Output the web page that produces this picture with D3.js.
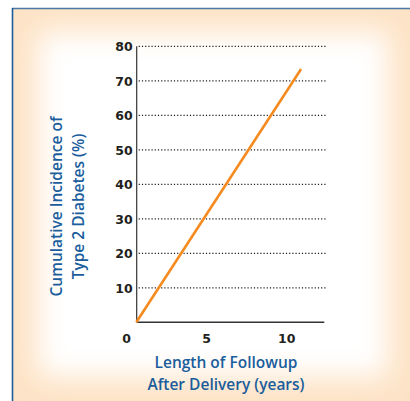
<!DOCTYPE html>
<html>
<head>
<meta charset="utf-8">
<script src="https://cdn.jsdelivr.net/npm/d3@7"></script>
<style>
  body { margin: 0; background: #fff; }
  text { font-family: "Open Sans", sans-serif; }
  text.tick { font-family: "DejaVu Sans", sans-serif; }
</style>
</head>
<body>
<div id="chart"></div>
<script>
// data
var years = [0.6, 10.9];
var incidence = [0, 73.4];
var yTicks = [10, 20, 30, 40, 50, 60, 70, 80];
var xTicks = [0, 5, 10];
var yTitle = ["Cumulative Incidence of", "Type 2 Diabetes (%)"];
var xTitle = ["Length of Followup", "After Delivery (years)"];

var svg = d3.select("#chart").append("svg").attr("width", 410).attr("height", 401);

// peach vignette frame
var defs = svg.append("defs");
defs.append("filter").attr("id", "soft").attr("x", "-20%").attr("y", "-20%").attr("width", "140%").attr("height", "140%")
  .append("feGaussianBlur").attr("stdDeviation", 14);
svg.append("rect").attr("x", 13).attr("y", 9).attr("width", 400).attr("height", 395).attr("fill", "#fde3c6");
svg.append("rect").attr("x", 38).attr("y", 32).attr("width", 350).attr("height", 345).attr("fill", "#fff").attr("filter", "url(#soft)");
svg.append("line").attr("x1", 12).attr("x2", 410).attr("y1", 8.5).attr("y2", 8.5).attr("stroke", "#4a79a6").attr("stroke-width", 1.6);
svg.append("line").attr("x1", 12.5).attr("x2", 12.5).attr("y1", 8).attr("y2", 401).attr("stroke", "#1b5c9e").attr("stroke-width", 1.6);

var x = d3.scaleLinear().domain([0, 5]).range([126.7, 206.7]);
var y = d3.scaleLinear().domain([0, 80]).range([322.3, 46.3]);
var xStart = 0.625, xEnd = 12.35;

var data = years.map(function(d, i) { return [d, incidence[i]]; });

// dotted gridlines
svg.append("g").selectAll("line").data(yTicks).enter().append("line")
  .attr("x1", x(xStart) + 2).attr("x2", x(12.45))
  .attr("y1", function(d) { return y(d); }).attr("y2", function(d) { return y(d); })
  .attr("stroke", "#1e1e1e").attr("stroke-width", 1.3).attr("stroke-dasharray", "1.2,2");

// axes lines
svg.append("line").attr("x1", x(xStart)).attr("x2", x(xStart)).attr("y1", y(80)).attr("y2", y(0))
  .attr("stroke", "#333").attr("stroke-width", 1.2);
svg.append("line").attr("x1", x(xStart)).attr("x2", x(xEnd)).attr("y1", y(0)).attr("y2", y(0))
  .attr("stroke", "#333").attr("stroke-width", 1.5);

// tick labels
svg.append("g").selectAll("text").data(yTicks).enter().append("text").attr("class", "tick")
  .attr("x", x(xStart) - 4).attr("y", function(d) { return y(d) + 4.7; })
  .attr("text-anchor", "end").attr("font-size", 12.5).attr("font-weight", 700).attr("fill", "#231f20")
  .text(function(d) { return d; });
svg.append("g").selectAll("text").data(xTicks).enter().append("text").attr("class", "tick")
  .attr("x", function(d) { return x(d); }).attr("y", 343)
  .attr("text-anchor", "middle").attr("font-size", 12.5).attr("font-weight", 700).attr("fill", "#231f20")
  .text(function(d) { return d; });

// the line
svg.append("path").datum(data)
  .attr("d", d3.line().x(function(d) { return x(d[0]); }).y(function(d) { return y(d[1]); }))
  .attr("fill", "none").attr("stroke", "#f58a1f").attr("stroke-width", 2.6);

// axis titles
var yt = svg.append("text").attr("transform", "translate(0,206.5) rotate(-90)")
  .attr("text-anchor", "middle").attr("font-size", 15.5).attr("font-weight", 600).attr("fill", "#1a5d9c");
yt.selectAll("tspan").data(yTitle).enter().append("tspan")
  .attr("x", 0).attr("y", function(d, i) { return 62 + i * 21.5; }).text(function(d) { return d; });

var xt = svg.append("text").attr("text-anchor", "middle").attr("font-size", 15.5).attr("font-weight", 600).attr("fill", "#1a5d9c");
xt.selectAll("tspan").data(xTitle).enter().append("tspan")
  .attr("x", 226).attr("y", function(d, i) { return 368 + i * 22; }).text(function(d) { return d; });
</script>
</body>
</html>
